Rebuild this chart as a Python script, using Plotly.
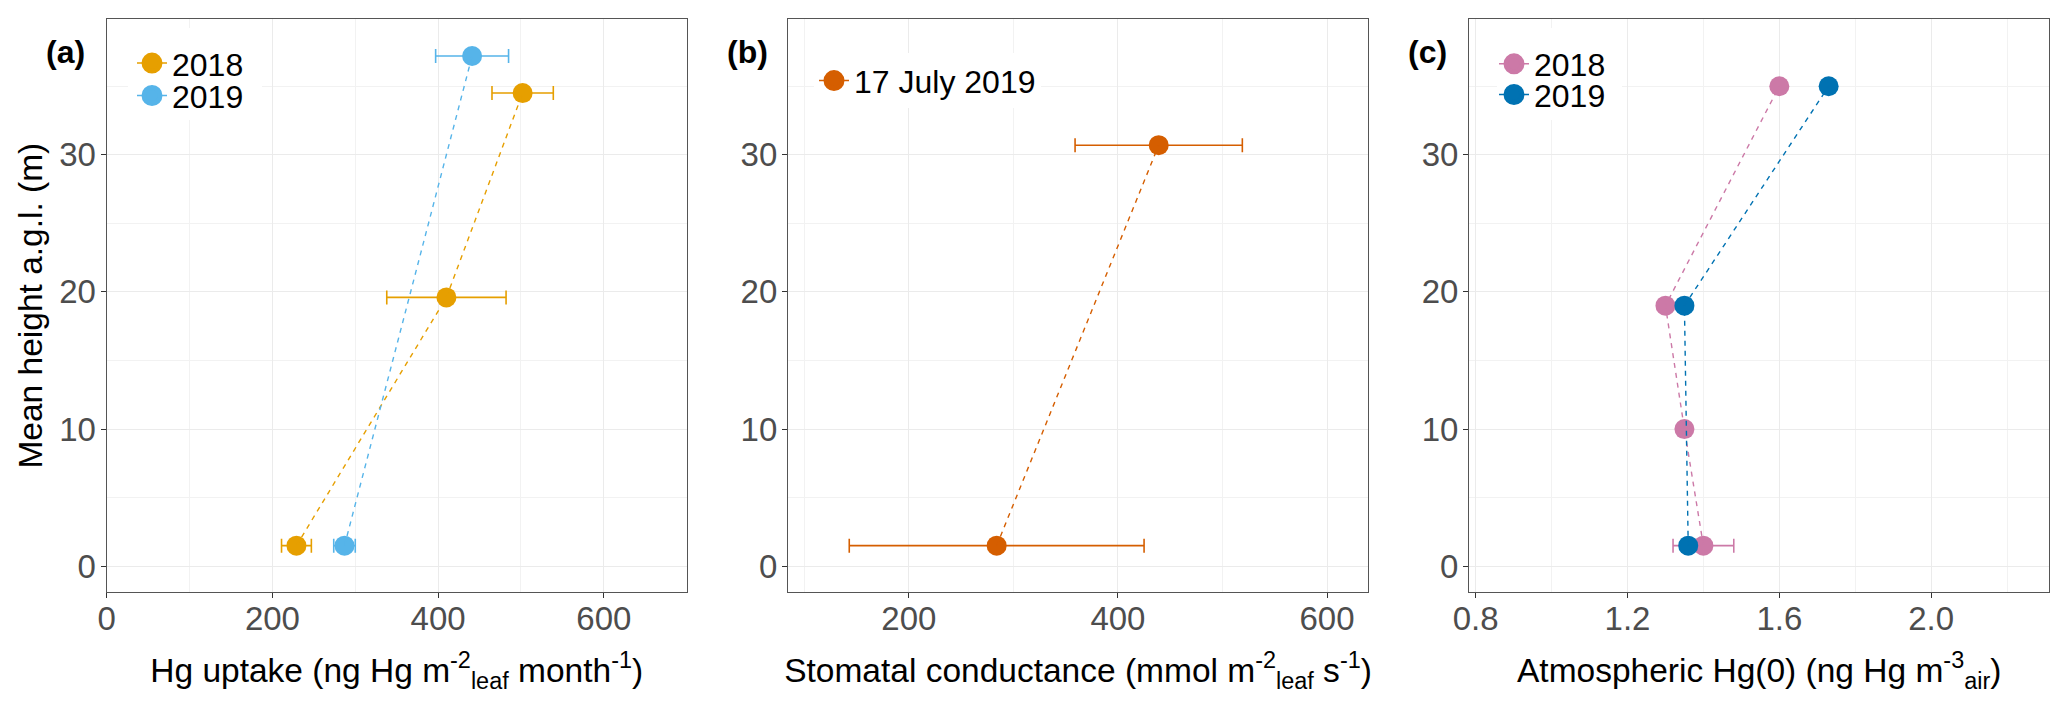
import plotly.graph_objects as go

# panel (a): Hg uptake by height
a_2018_height = [1.5, 19.6, 34.5]
a_2018_uptake = [229, 410, 502]
a_2018_sd = [18, 72, 37]
a_2019_height = [1.5, 37.2]
a_2019_uptake = [287, 441]
a_2019_sd = [13, 44]

# panel (b): stomatal conductance, 17 July 2019
b_height = [1.5, 30.7]
b_gs = [284, 439]
b_sd = [141, 80]

# panel (c): atmospheric Hg(0)
c_2018_height = [1.5, 10, 19, 35]
c_2018_hg = [1.40, 1.35, 1.30, 1.60]
c_2018_sd = [0.08, None, None, None]
c_2019_height = [1.5, 19, 35]
c_2019_hg = [1.36, 1.35, 1.73]

ORANGE, SKY, VERM, PINK, BLUE = "#E69F00", "#56B4E9", "#D55E00", "#CC79A7", "#0072B2"
FONT = "Liberation Sans, Arial, sans-serif"
W, H = 2067, 709

fig = go.Figure()


def points(x, y, err, color, xa, ya):
    fig.add_trace(go.Scatter(
        x=x, y=y, mode="markers", xaxis=xa, yaxis=ya, showlegend=False,
        marker=dict(size=20, color=color),
        error_x=dict(type="data", array=err, color=color, thickness=1.6, width=7) if err else None,
    ))


def path(x, y, color, xa, ya):
    fig.add_trace(go.Scatter(
        x=x, y=y, mode="lines", xaxis=xa, yaxis=ya, showlegend=False,
        line=dict(color=color, width=1.4, dash="5px,5px"),
    ))


def key(name, color, xa, ya, leg):
    fig.add_trace(go.Scatter(
        x=[None], y=[None], mode="lines+markers", name=name, xaxis=xa, yaxis=ya,
        legend=leg, line=dict(color=color, width=1.5),
        marker=dict(size=20, color=color, line=dict(color=color, width=5)),
    ))


points(a_2018_uptake, a_2018_height, a_2018_sd, ORANGE, "x", "y")
points(a_2019_uptake, a_2019_height, a_2019_sd, SKY, "x", "y")
path(a_2018_uptake, a_2018_height, ORANGE, "x", "y")
path(a_2019_uptake, a_2019_height, SKY, "x", "y")
key("2018", ORANGE, "x", "y", "legend")
key("2019", SKY, "x", "y", "legend2")

points(b_gs, b_height, b_sd, VERM, "x2", "y2")
path(b_gs, b_height, VERM, "x2", "y2")
key("17 July 2019", VERM, "x2", "y2", "legend3")

points(c_2018_hg, c_2018_height, c_2018_sd, PINK, "x3", "y3")
points(c_2019_hg, c_2019_height, None, BLUE, "x3", "y3")
path(c_2018_hg, c_2018_height, PINK, "x3", "y3")
path(c_2019_hg, c_2019_height, BLUE, "x3", "y3")
key("2018", PINK, "x3", "y3", "legend4")
key("2019", BLUE, "x3", "y3", "legend5")

grid = dict(showgrid=True, gridcolor="#EBEBEB", gridwidth=1.2, zeroline=False, automargin=False,
            showline=True, mirror=True, linecolor="#555555", linewidth=1.3,
            ticks="outside", ticklen=5, tickwidth=1.2, tickcolor="#333333",
            tickfont=dict(size=33, color="#4D4D4D", family=FONT))
minor = dict(showgrid=True, gridcolor="#F2F2F2", gridwidth=0.8, ticklen=0)

doms = [(106.7, 686.7), (788.0, 1368.0), (1469.2, 2049.2)]
xtitles = [
    "Hg uptake (ng Hg m<sup>-2</sup><sub>leaf</sub> month<sup>-1</sup>)",
    "Stomatal conductance (mmol m<sup>-2</sup><sub>leaf</sub> s<sup>-1</sup>)",
    "Atmospheric Hg(0) (ng Hg m<sup>-3</sup><sub>air</sub>)",
]
xranges = [[0, 700], [84.4, 639.2], [0.783, 2.311]]
xticks = [dict(tick0=0, dtick=200), dict(tick0=0, dtick=200), dict(tick0=0.8, dtick=0.4, tickformat=".1f")]
xminor = [dict(tick0=0, dtick=100), dict(tick0=0, dtick=100), dict(tick0=0.8, dtick=0.2)]
ydom = [1 - 592.3 / H, 1 - 19.0 / H]

layout = {}
for i in range(3):
    sfx = "" if i == 0 else str(i + 1)
    layout["xaxis" + sfx] = dict(
        grid, domain=[doms[i][0] / W, doms[i][1] / W], range=xranges[i],
        anchor="y" + sfx, minor=dict(minor, **xminor[i]), ticklabelstandoff=-8,
        title=dict(text=xtitles[i], standoff=22, font=dict(size=33.5, color="black", family=FONT)),
        **xticks[i])
    layout["yaxis" + sfx] = dict(
        grid, domain=ydom, range=[-1.9, 39.9], anchor="x" + sfx, tick0=0, dtick=10,
        minor=dict(minor, tick0=0, dtick=5), ticklabelstandoff=-2,
        title=dict(text="Mean height a.g.l. (m)" if i == 0 else "", standoff=6,
                   font=dict(size=33.5, color="black", family=FONT)))

# legend placements (symbol centre, px)
legs = [("legend", 152, 63.3), ("legend2", 152, 95.7), ("legend3", 834, 80.8),
        ("legend4", 1514, 64), ("legend5", 1514, 94.7)]
for name, cx, cy in legs:
    layout[name] = dict(x=(cx - 20) / W, y=1 - cy / H, xanchor="left", yanchor="middle",
                        bgcolor="white" if name == "legend3" else "rgba(0,0,0,0)", borderwidth=0,
                        font=dict(size=32, color="black", family=FONT))

# white legend backgrounds for the two-entry legends (px boxes)
legend_boxes = [(128, 28, 262, 120), (1497, 28, 1622, 120)]
shapes = [dict(type="rect", xref="paper", yref="paper", x0=x0 / W, x1=x1 / W,
               y0=1 - y1 / H, y1=1 - y0 / H, fillcolor="white", line=dict(width=0), layer="above")
          for x0, y0, x1, y1 in legend_boxes]

tags = [("(a)", 43.5), ("(b)", 725), ("(c)", 1405.7)]
annotations = [dict(text="<b>%s</b>" % t, x=x / W, y=1 - 51.5 / H, xref="paper", yref="paper",
                    xanchor="left", yanchor="middle", showarrow=False,
                    font=dict(size=32, color="black", family=FONT)) for t, x in tags]

fig.update_layout(
    **layout,
    width=W, height=H, margin=dict(l=0, r=0, t=0, b=0, pad=0),
    paper_bgcolor="white", plot_bgcolor="white",
    font=dict(family=FONT), annotations=annotations, shapes=shapes,
)

# page body has a default 8px margin; drop it so the figure sits at the window origin
fig.write_html("out.html", config={"displayModeBar": False},
               post_script="document.body.style.margin='0px';")
